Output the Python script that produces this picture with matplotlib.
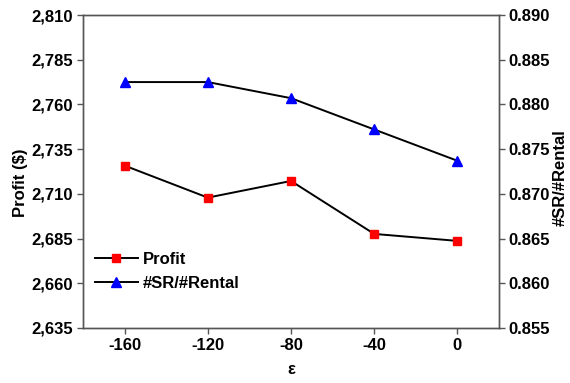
import matplotlib
matplotlib.use("Agg")
import matplotlib.pyplot as plt
from matplotlib.ticker import FuncFormatter

eps = [-160, -120, -80, -40, 0]
profit = [2725.8, 2707.9, 2717.2, 2687.6, 2683.7]
sr_ratio = [0.8825, 0.8825, 0.8807, 0.8772, 0.8737]
left_ticks = [2635, 2660, 2685, 2710, 2735, 2760, 2785, 2810]
right_ticks = [0.855, 0.860, 0.865, 0.870, 0.875, 0.880, 0.885, 0.890]

plt.rcParams['font.family'] = ['Liberation Sans', 'DejaVu Sans']
plt.rcParams['font.weight'] = 'bold'
plt.rcParams['font.size'] = 12
plt.rcParams['axes.unicode_minus'] = False

fig = plt.figure(figsize=(5.7, 3.83), dpi=100)
ax = fig.add_axes([83/570, 1-328/383, (499-83)/570, (328-15)/383])
ax2 = ax.twinx()

spine_c = '#555555'
l1, = ax.plot(eps, profit, color='black', lw=1.4, marker='s', markersize=5.5,
              markerfacecolor='red', markeredgecolor='red', label='Profit')
l2, = ax2.plot(eps, sr_ratio, color='black', lw=1.4, marker='^', markersize=6.5,
               markerfacecolor='blue', markeredgecolor='blue', label='#SR/#Rental')

ax.set_xlim(-180, 20)
ax.set_ylim(2635, 2810)
ax2.set_ylim(0.855, 0.890)
ax.set_xticks(eps)
ax.set_yticks(left_ticks)
ax2.set_yticks(right_ticks)
ax.yaxis.set_major_formatter(FuncFormatter(lambda v, p: f"{int(round(v)):,}"))
ax2.yaxis.set_major_formatter(FuncFormatter(lambda v, p: f"{v:.3f}"))

for a in (ax, ax2):
    for s in a.spines.values():
        s.set_color(spine_c)
        s.set_linewidth(1.0)
    a.tick_params(direction='out', length=4, width=1, color=spine_c, labelsize=12, pad=3)

ax.set_xlabel('ε', fontsize=12, fontweight='bold', labelpad=7)
ax.set_ylabel('Profit ($)', fontsize=12, fontweight='bold')
ax.yaxis.set_label_coords(-0.132, 0.463)
ax2.set_ylabel('#SR/#Rental', fontsize=12, fontweight='bold', rotation=90)
ax2.yaxis.set_label_coords(1.130, 0.482)

leg = ax.legend(handles=[l1, l2], loc='lower left', bbox_to_anchor=(0.0, 0.08),
                frameon=False, fontsize=12, handlelength=2.6, handletextpad=0.3,
                labelspacing=0.55, borderaxespad=0.3)

fig.savefig('out.png', dpi=100)
